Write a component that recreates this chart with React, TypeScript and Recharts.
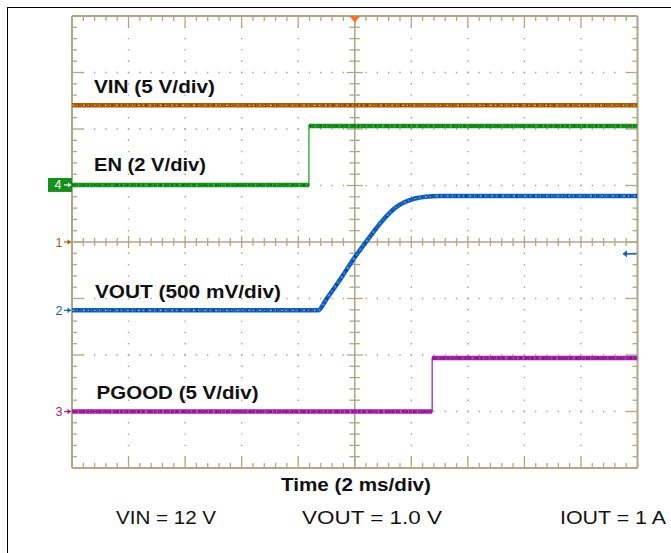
import React from 'react';
import { ComposedChart, Line, XAxis, YAxis, ReferenceLine, ReferenceDot } from 'recharts';

const W = 671;
const H = 553;
const MARGIN = { top: 16, right: 33.5, bottom: 85, left: 72 };
const PX_PER_DIV_X = (W - MARGIN.left - MARGIN.right) / 10;
const PX_PER_DIV_Y = (H - MARGIN.top - MARGIN.bottom) / 8;
const MS_PER_DIV = 2;
const X_DOMAIN: [number, number] = [-10, 10];
const Y_DOMAIN: [number, number] = [-4, 4];

// ---- waveform data (time in ms, values in volts) ----
const vinTime = [-10, 10];
const vinVolts = [12.1, 12.1];
const enTime = [-10, -1.62, -1.62, 10];
const enVolts = [0, 0, 2.09, 2.09];
const voutTime = [-10, -1.3, -1.0, -0.5, 0, 0.5, 1.0, 1.5, 2.0, 2.5, 3.0, 10];
const voutVolts = [0, 0, 0.1, 0.28, 0.47, 0.64, 0.8, 0.92, 0.98, 1.005, 1.013, 1.013];
const pgTime = [-10, 2.74, 2.74, 10];
const pgVolts = [0, 0, 4.73, 4.73];

// channel settings: scale (V/div), reference offset (div)
const channelIds = ['1', '4', '2', '3'];
const channelNames = ['VIN (5 V/div)', 'EN (2 V/div)', 'VOUT (500 mV/div)', 'PGOOD (5 V/div)'];
const channelScales = [5, 2, 0.5, 5];
const channelOffsets = [0, 1.01, -1.21, -3.0];
const channelColors = ['#b35c08', '#13901a', '#1660c4', '#a31aa3'];
const channelSpeck = ['#e6c61c', '#0b5e10', '#3cc6ee', '#650c6a'];
const channelSpeck2 = ['#8a4200', '#36b03a', '#0c3f98', '#c640c8'];
const channelEdge = ['#c07020', '#4cb050', '#3a80d0', '#b848c0'];
const channelCurve = ['linear', 'linear', 'monotone', 'linear'];
const channelTimes = [vinTime, enTime, voutTime, pgTime];
const channelVolts = [vinVolts, enVolts, voutVolts, pgVolts];
const triggerLevelVolts = 0.5; // on channel 2 (VOUT)

// label layout
const labelX = [94, 94, 95, 96.5];
const labelBase = [93, 171, 298, 399];
const labelLen = [121, 112, 186, 162];

const bottomTitle = 'Time (2 ms/div)';
const conditions = ['VIN = 12 V', 'VOUT = 1.0 V', 'IOUT = 1 A'];
const conditionX = [116, 302, 560];
const conditionLen = [100, 140, 106];

const GRID = '#b0a785';
const DOT = '#a3a39a';

const msPerPx = MS_PER_DIV / PX_PER_DIV_X;
const divPerPx = 1 / PX_PER_DIV_Y;

const xTicks: number[] = [];
for (let i = 0; i <= 50; i++) xTicks.push(-10 + i * 0.4);
const yTicks: number[] = [];
for (let i = 0; i <= 40; i++) yTicks.push(-4 + i * 0.2);
const isMajorX = (t: number) => Math.abs(t / 2 - Math.round(t / 2)) < 1e-6;
const isMajorY = (d: number) => Math.abs(d - Math.round(d)) < 1e-6;

const toDiv = (ch: number, v: number) => channelOffsets[ch] + v / channelScales[ch];

function fullData(ch: number) {
  return channelTimes[ch].map((t, i) => ({ t, v: toDiv(ch, channelVolts[ch][i]) }));
}
function brokenData(ch: number) {
  const out: { t: number; v: number | null }[] = [];
  const ts = channelTimes[ch];
  ts.forEach((t, i) => {
    if (i > 0 && ts[i - 1] === t) out.push({ t, v: null });
    out.push({ t, v: toDiv(ch, channelVolts[ch][i]) });
  });
  return out;
}

const segs: { key: string; seg: { x: number; y: number }[]; w: number }[] = [];
xTicks.forEach((t, i) => {
  if (i === 0 || i === xTicks.length - 1) return;
  const maj = isMajorX(t);
  const len = maj ? 11 : 5;
  segs.push({ key: 'tt' + i, seg: [{ x: t, y: 4 }, { x: t, y: 4 - len * divPerPx }], w: 1.3 });
  segs.push({ key: 'tb' + i, seg: [{ x: t, y: -4 }, { x: t, y: -4 + len * divPerPx }], w: 1.3 });
  const h = maj ? 6 : 4;
  if (Math.abs(t) > 1e-6) segs.push({ key: 'tc' + i, seg: [{ x: t, y: -h * divPerPx }, { x: t, y: h * divPerPx }], w: 1.3 });
});
yTicks.forEach((d, i) => {
  if (i === 0 || i === yTicks.length - 1) return;
  const maj = isMajorY(d);
  const len = maj ? 11 : 5;
  segs.push({ key: 'yl' + i, seg: [{ x: -10, y: d }, { x: -10 + len * msPerPx, y: d }], w: 1.3 });
  segs.push({ key: 'yr' + i, seg: [{ x: 10, y: d }, { x: 10 - len * msPerPx, y: d }], w: 1.3 });
  const h = maj ? 8 : 5.3;
  if (Math.abs(d) > 1e-6) segs.push({ key: 'yc' + i, seg: [{ x: -h * msPerPx, y: d }, { x: h * msPerPx, y: d }], w: 1.3 });
});

const gridX = [-8, -6, -4, -2, 2, 4, 6, 8];
const gridY = [-3, -2, -1, 1, 2, 3];
const dotPeriodX = PX_PER_DIV_X / 5;
const dotPeriodY = PX_PER_DIV_Y / 5;

const ChannelMarker = (ch: number) => (props: any) => {
  const { cx, cy } = props;
  const color = channelColors[ch];
  const x = cx;
  if (channelIds[ch] === '4') {
    return (
      <g>
        <rect x={x - 24} y={cy - 7} width={24} height={14} fill={color} />
        <text x={x - 14} y={cy + 4.5} fontSize={12.5} fill="#fff" textAnchor="middle" fontFamily="Liberation Sans, Arial, sans-serif">4</text>
        <line x1={x - 8} y1={cy} x2={x - 1} y2={cy} stroke="#fff" strokeWidth={1.2} />
        <path d={`M${x - 1},${cy} l-3,-2.5 v5 z`} fill="#fff" />
      </g>
    );
  }
  return (
    <g>
      <text x={x - 13} y={cy + 4.5} fontSize={12.5} fill={color} textAnchor="middle" fontFamily="Liberation Sans, Arial, sans-serif">{channelIds[ch]}</text>
      <line x1={x - 8} y1={cy} x2={x - 1} y2={cy} stroke={color} strokeWidth={1.2} />
      <path d={`M${x - 1},${cy} l-3.5,-2.8 v5.6 z`} fill={color} />
    </g>
  );
};

const TriggerMark = (props: any) => {
  const { cx, cy } = props;
  return <path d={`M${cx - 5.5},${cy} L${cx + 5.5},${cy} L${cx},${cy + 6.5} z`} fill="#ff6d22" />;
};

const LevelMark = (props: any) => {
  const { cx, cy } = props;
  return (
    <g>
      <line x1={cx - 14} y1={cy} x2={cx - 1} y2={cy} stroke="#1660c4" strokeWidth={1.6} />
      <path d={`M${cx - 15},${cy} l4.5,-3.5 v7 z`} fill="#1660c4" />
    </g>
  );
};

export default function App() {
  const font = 'Liberation Sans, Arial, Helvetica, sans-serif';
  return (
    <div style={{ position: 'absolute', left: 0, top: 0, width: W, height: H, background: '#fff', overflow: 'hidden' }}>
      <div style={{ position: 'absolute', left: 7, top: 7, width: W - 7, height: H - 7, borderLeft: '1px solid #000', borderTop: '1px solid #000' }} />
      <div style={{ position: 'absolute', left: 0, top: 0 }}>
        <ComposedChart width={W} height={H} margin={MARGIN}>
          <XAxis dataKey="t" type="number" domain={X_DOMAIN} allowDataOverflow hide />
          <YAxis type="number" domain={Y_DOMAIN} allowDataOverflow hide />
          {gridX.map((x) => (
            <ReferenceLine key={'gx' + x} x={x} stroke={DOT} strokeWidth={1.4} strokeDasharray={`1.4 ${dotPeriodY - 1.4}`} strokeDashoffset={0.7} />
          ))}
          {gridY.map((y) => (
            <ReferenceLine key={'gy' + y} y={y} stroke={DOT} strokeWidth={1.4} strokeDasharray={`1.4 ${dotPeriodX - 1.4}`} strokeDashoffset={0.7} />
          ))}
          <ReferenceLine x={0} stroke={GRID} strokeWidth={1.6} />
          <ReferenceLine y={0} stroke={GRID} strokeWidth={1.6} />
          {segs.map((s) => (
            <ReferenceLine key={s.key} segment={s.seg} stroke={GRID} strokeWidth={s.w} />
          ))}
          <ReferenceLine x={-10} stroke={GRID} strokeWidth={2} />
          <ReferenceLine x={10} stroke={GRID} strokeWidth={2} />
          <ReferenceLine y={4} stroke={GRID} strokeWidth={2} />
          <ReferenceLine y={-4} stroke={GRID} strokeWidth={2} />

          {channelIds.map((id, ch) => (
            <Line key={'thin' + id} data={fullData(ch)} dataKey="v" type={channelCurve[ch] as any} stroke={channelEdge[ch]} strokeWidth={1.6} dot={false} activeDot={false} isAnimationActive={false} />
          ))}
          {channelIds.map((id, ch) => (
            <Line key={'thick' + id} data={brokenData(ch)} dataKey="v" type={channelCurve[ch] as any} stroke={channelColors[ch]} strokeWidth={4.5} dot={false} activeDot={false} isAnimationActive={false} />
          ))}
          {channelIds.map((id, ch) => (
            <Line key={'speck2' + id} data={brokenData(ch)} dataKey="v" type={channelCurve[ch] as any} stroke={channelSpeck2[ch]} strokeWidth={3} strokeDasharray="1 4 2 6 1 3" dot={false} activeDot={false} isAnimationActive={false} />
          ))}
          {channelIds.map((id, ch) => (
            <Line key={'speck' + id} data={brokenData(ch)} dataKey="v" type={channelCurve[ch] as any} stroke={channelSpeck[ch]} strokeWidth={1.2} strokeDasharray="2 3 1 5" dot={false} activeDot={false} isAnimationActive={false} />
          ))}

          {channelIds.map((id, ch) => (
            <ReferenceDot key={'mk' + id} x={-10} y={channelOffsets[ch]} r={0} shape={ChannelMarker(ch)} ifOverflow="visible" />
          ))}
          <ReferenceDot x={0} y={4} r={0} shape={TriggerMark} ifOverflow="visible" />
          <ReferenceDot x={10} y={toDiv(2, triggerLevelVolts)} r={0} shape={LevelMark} ifOverflow="visible" />
        </ComposedChart>
      </div>
      <svg width={W} height={H} style={{ position: 'absolute', left: 0, top: 0, pointerEvents: 'none' }}>
        {channelNames.map((n, i) => (
          <text key={n} x={labelX[i]} y={labelBase[i]} fontSize={19} fontWeight="bold" fill="#111" fontFamily={font} textLength={labelLen[i]} lengthAdjust="spacingAndGlyphs">{n}</text>
        ))}
        <text x={281} y={491} fontSize={19} fontWeight="bold" fill="#111" fontFamily={font} textLength={150} lengthAdjust="spacingAndGlyphs">{bottomTitle}</text>
        {conditions.map((c, i) => (
          <text key={c} x={conditionX[i]} y={524} fontSize={19} fill="#111" fontFamily={font} textLength={conditionLen[i]} lengthAdjust="spacingAndGlyphs">{c}</text>
        ))}
      </svg>
    </div>
  );
}
